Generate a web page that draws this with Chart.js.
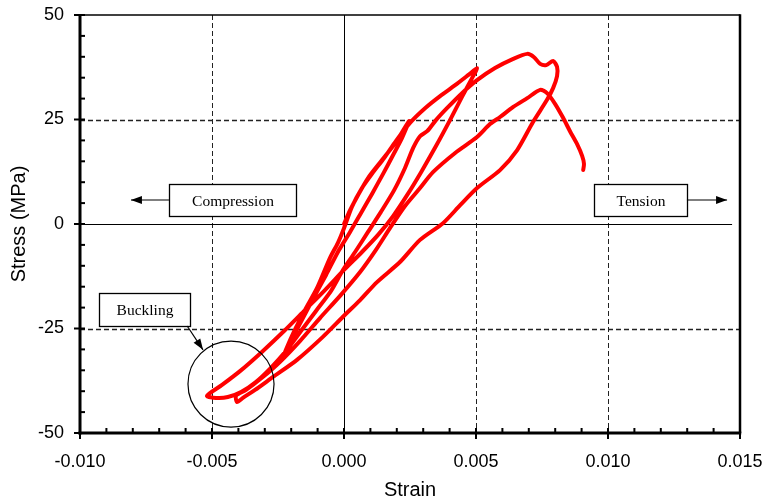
<!DOCTYPE html>
<html>
<head>
<meta charset="utf-8">
<script src="https://cdn.jsdelivr.net/npm/chart.js@4.4.0/dist/chart.umd.min.js"></script>
<style>
  html, body { margin: 0; padding: 0; background: #fff; }
  #wrap { width: 766px; height: 502px; position: relative; }
</style>
</head>
<body>
<div id="wrap"><canvas id="chart"></canvas></div>
<script>
// ---------- DATA ----------
// strain / stress, one array pair per branch of the loop
const load1Strain = [0, 0.00023, 0.00053, 0.00091, 0.00144, 0.00197, 0.00246];
const load1Stress = [0, 3.3, 6.9, 11.0, 15.3, 19.6, 24.6];

const unload1Strain = [0.00220, 0.00186, 0.00148, 0.00106, 0.00064, 0.00023, -0.00023, -0.00068, -0.00117, -0.00163, -0.00205, -0.00231];
const unload1Stress = [20.6, 16.5, 12.0, 7.2, 2.6, -1.9, -6.7, -12.2, -17.9, -23.4, -28.5, -32.1];

const load2Strain = [-0.00220, -0.00190, -0.00148, -0.00102, -0.00053, -0.00023, 0, 0.00030, 0.00068, 0.00106, 0.00152, 0.00197, 0.00250, 0.00307, 0.00364, 0.00421, 0.00470, 0.00504];
const load2Stress = [-30.1, -25.8, -20.6, -15.3, -8.1, -4.5, -1.0, 4.1, 8.6, 12.0, 15.8, 19.9, 24.2, 27.7, 30.6, 33.2, 35.6, 37.3];

const unload2Strain = [0.00485, 0.00447, 0.00402, 0.00349, 0.00292, 0.00239, 0.00186, 0.00129, 0.00068, 0, -0.00072, -0.00148, -0.00227, -0.00311, -0.00394, -0.00462, -0.00519];
const unload2Stress = [34.9, 30.4, 24.9, 18.7, 12.4, 6.9, 1.9, -2.6, -6.7, -11.0, -15.8, -20.6, -25.6, -30.6, -35.2, -38.5, -41.1];

const load3Strain = [-0.00485, -0.00440, -0.00390, -0.00334, -0.00277, -0.00220, -0.00163, -0.00106, -0.00049, -0.00004, 0.00042, 0.00091, 0.00140, 0.00190, 0.00231, 0.00262, 0.00288, 0.00315, 0.00349, 0.00390, 0.00447, 0.00504, 0.00572, 0.00641, 0.00694, 0.00720, 0.00743, 0.00766, 0.00792, 0.00807, 0.00807];
const load3Stress = [-41.6, -41.4, -40.2, -37.8, -34.4, -30.4, -25.6, -20.8, -16.0, -11.0, -6.7, -1.9, 2.9, 8.1, 13.4, 18.2, 21.0, 22.2, 24.9, 27.7, 31.3, 34.4, 37.3, 39.5, 40.7, 39.9, 38.3, 38.0, 39.0, 37.6, 35.4];

const unload3Strain = [0.00792, 0.00769, 0.00716, 0.00656, 0.00591, 0.00504, 0.00440, 0.00375, 0.00288, 0.00212, 0.00125, 0.00061, -0.00004, -0.00080, -0.00178, -0.00269, -0.00337, -0.00383, -0.00405];
const unload3Stress = [32.5, 29.7, 24.4, 17.7, 12.9, 8.6, 4.5, 0.2, -3.8, -9.1, -13.9, -18.2, -22.2, -27.0, -32.5, -36.6, -39.7, -41.6, -42.6];

const load4Strain = [-0.00409, -0.00371, -0.00311, -0.00243, -0.00167, -0.00091, -0.00015, 0.00061, 0.00121, 0.00174, 0.00231, 0.00288, 0.00337, 0.00421, 0.00504, 0.00553, 0.00591, 0.00641, 0.00694, 0.00743];
const load4Stress = [-41.1, -39.7, -36.8, -33.0, -28.0, -22.5, -17.2, -11.5, -6.2, -1.0, 4.3, 8.6, 12.4, 17.0, 20.8, 23.9, 25.6, 28.0, 30.1, 32.1];

const tailStrain = [0.00769, 0.00800, 0.00830, 0.00856, 0.00883, 0.00902, 0.00909, 0.00906];
const tailStress = [31.3, 28.7, 25.4, 22.2, 19.1, 16.3, 14.4, 12.9];

// axis ticks
const xTicks = [-0.010, -0.005, 0.000, 0.005, 0.010, 0.015];
const yTicks = [-50, -25, 0, 25, 50];
const dashedX = [-0.005, 0.005, 0.010];
const dashedY = [-25, 25];

// text boxes: [label, strainLeft, strainRight, stressTop, stressBottom]
const boxes = [
  ['Compression', -0.00663, -0.00182, 9.57, 1.91],
  ['Tension', 0.00947, 0.01299, 9.57, 1.91],
  ['Buckling', -0.00928, -0.00583, -16.5, -24.4]
];
// arrows: [fromStrain, fromStress, toStrain, toStress]
const arrows = [
  [-0.00663, 5.74, -0.00807, 5.74],
  [0.01299, 5.74, 0.01451, 5.74],
  [-0.00594, -24.4, -0.00534, -30.1]
];
// buckling circle: centre strain, centre stress, radius in strain units
const circle = [-0.00428, -38.3, 0.00163];

// ---------- BUILD ----------
const branches = [
  [load1Strain, load1Stress], [unload1Strain, unload1Stress],
  [load2Strain, load2Stress], [unload2Strain, unload2Stress],
  [load3Strain, load3Stress], [unload3Strain, unload3Stress],
  [load4Strain, load4Stress], [tailStrain, tailStress]
];
const path = [];
branches.forEach(([xs, ys]) => xs.forEach((v, i) => path.push({ x: v, y: ys[i] })));

function seg(ctx, x1, y1, x2, y2) {
  ctx.beginPath(); ctx.moveTo(x1, y1); ctx.lineTo(x2, y2); ctx.stroke();
}

function arrowHead(ctx, x1, y1, x2, y2) {
  const ang = Math.atan2(y2 - y1, x2 - x1);
  const len = 11, half = 4;
  ctx.beginPath();
  ctx.moveTo(x2, y2);
  ctx.lineTo(x2 - len * Math.cos(ang) + half * Math.sin(ang), y2 - len * Math.sin(ang) - half * Math.cos(ang));
  ctx.lineTo(x2 - len * Math.cos(ang) - half * Math.sin(ang), y2 - len * Math.sin(ang) + half * Math.cos(ang));
  ctx.closePath();
  ctx.fill();
}

// keep the plot box fixed, ignore label overhang
function fixBox(s, w, h) {
  if (w) s.width = w;
  if (h) s.height = h;
  s.paddingTop = s.paddingBottom = s.paddingLeft = s.paddingRight = 0;
}

const framePlugin = {
  id: 'frame',
  beforeDatasetsDraw(chart) {
    const { ctx, chartArea: a, scales: { x, y } } = chart;
    ctx.save();
    ctx.strokeStyle = '#222';
    ctx.lineWidth = 1;
    ctx.setLineDash([5, 3]);
    dashedX.forEach(v => { const p = Math.round(x.getPixelForValue(v)) + 0.5; seg(ctx, p, a.top, p, a.bottom); });
    ctx.lineWidth = 1.3;
    dashedY.forEach(v => { const p = Math.round(y.getPixelForValue(v)) + 0.5; seg(ctx, a.left, p, a.right, p); });
    ctx.setLineDash([]);
    ctx.strokeStyle = '#000';
    ctx.lineWidth = 1;
    const x0 = Math.round(x.getPixelForValue(0)) + 0.5;
    const y0 = Math.round(y.getPixelForValue(0)) + 0.5;
    seg(ctx, x0, a.top, x0, a.bottom);
    seg(ctx, a.left, y0, x.getPixelForValue(0.0147), y0);
    ctx.restore();
  },
  afterDatasetsDraw(chart) {
    const { ctx, chartArea: a, scales: { x, y } } = chart;
    ctx.save();
    ctx.strokeStyle = '#000';
    ctx.fillStyle = '#000';

    // circle round the buckling zone
    ctx.lineWidth = 1.2;
    const cx = x.getPixelForValue(circle[0]);
    const cy = y.getPixelForValue(circle[1]);
    const r = x.getPixelForValue(circle[0] + circle[2]) - cx;
    ctx.beginPath(); ctx.arc(cx, cy, r, 0, Math.PI * 2); ctx.stroke();

    // boxes
    ctx.font = '15.5px "Liberation Serif", "Times New Roman", serif';
    ctx.textAlign = 'center';
    ctx.textBaseline = 'middle';
    boxes.forEach(([txt, x1, x2, y1, y2]) => {
      const l = Math.round(x.getPixelForValue(x1)) + 0.5, rr = Math.round(x.getPixelForValue(x2)) + 0.5;
      const t = Math.round(y.getPixelForValue(y1)) + 0.5, b = Math.round(y.getPixelForValue(y2)) + 0.5;
      ctx.fillStyle = '#fff';
      ctx.fillRect(l, t, rr - l, b - t);
      ctx.lineWidth = 1.3;
      ctx.strokeRect(l, t, rr - l, b - t);
      ctx.fillStyle = '#000';
      ctx.fillText(txt, (l + rr) / 2, (t + b) / 2 + 1);
    });

    // arrows
    ctx.lineWidth = 1.2;
    arrows.forEach(([sx, sy, ex, ey]) => {
      const x1 = x.getPixelForValue(sx), y1 = y.getPixelForValue(sy);
      const x2 = x.getPixelForValue(ex), y2 = y.getPixelForValue(ey);
      seg(ctx, x1, y1, x2, y2);
      arrowHead(ctx, x1, y1, x2, y2);
    });

    // frame
    ctx.lineWidth = 1.5;
    seg(ctx, a.left, a.top, a.right, a.top);
    ctx.lineWidth = 2.5;
    seg(ctx, a.right, a.top - 0.75, a.right, a.bottom);
    ctx.lineWidth = 3;
    seg(ctx, a.left, a.top - 0.75, a.left, a.bottom + 1.5);
    seg(ctx, a.left - 1.5, a.bottom, a.right + 1.25, a.bottom);

    // minor ticks point inwards, major ticks outwards
    ctx.lineWidth = 2;
    for (let i = -10; i <= 15; i++) {
      const p = x.getPixelForValue(i / 1000);
      seg(ctx, p, a.bottom, p, a.bottom - 5);
    }
    xTicks.forEach(v => { const p = x.getPixelForValue(v); seg(ctx, p, a.bottom, p, a.bottom + 6); });
    for (let v = -50; v <= 50; v += 5) {
      const p = y.getPixelForValue(v);
      seg(ctx, a.left, p, a.left + 5, p);
    }
    yTicks.forEach(v => { const p = y.getPixelForValue(v); seg(ctx, a.left, p, a.left - 6, p); });
    ctx.restore();
  }
};

const tickFont = { family: '"Liberation Sans", Arial, sans-serif', size: 18 };

new Chart(document.getElementById('chart'), {
  type: 'scatter',
  data: {
    datasets: [{
      data: path,
      showLine: true,
      borderColor: '#ff0000',
      borderWidth: 4,
      pointRadius: 0,
      tension: 0.25,
      borderJoinStyle: 'round',
      borderCapStyle: 'round'
    }]
  },
  options: {
    responsive: true,
    maintainAspectRatio: false,
    animation: false,
    layout: { padding: { top: 15, right: 26, left: 0, bottom: 0 } },
    plugins: { legend: { display: false }, tooltip: { enabled: false } },
    scales: {
      x: {
        type: 'linear',
        min: -0.010, max: 0.015,
        afterBuildTicks: s => { s.ticks = xTicks.map(v => ({ value: v })); },
        afterFit: s => fixBox(s, 0, 69),
        grid: { display: false, drawTicks: false },
        border: { display: false },
        ticks: { color: '#000', font: tickFont, padding: 18, maxRotation: 0, autoSkip: false,
          callback: v => v.toFixed(3) },
        title: { display: true, text: 'Strain', color: '#000',
          font: { family: '"Liberation Sans", Arial, sans-serif', size: 20 }, padding: { bottom: 0, top: 0 } }
      },
      y: {
        type: 'linear',
        min: -50, max: 50,
        afterBuildTicks: s => { s.ticks = yTicks.map(v => ({ value: v })); },
        afterFit: s => fixBox(s, 80, 0),
        grid: { display: false, drawTicks: false },
        border: { display: false },
        ticks: { color: '#000', font: tickFont, padding: 16, callback: v => String(v) },
        title: { display: true, text: 'Stress (MPa)', color: '#000',
          font: { family: '"Liberation Sans", Arial, sans-serif', size: 20 }, padding: { top: 7, bottom: 0 } }
      }
    }
  },
  plugins: [framePlugin]
});
</script>
</body>
</html>
